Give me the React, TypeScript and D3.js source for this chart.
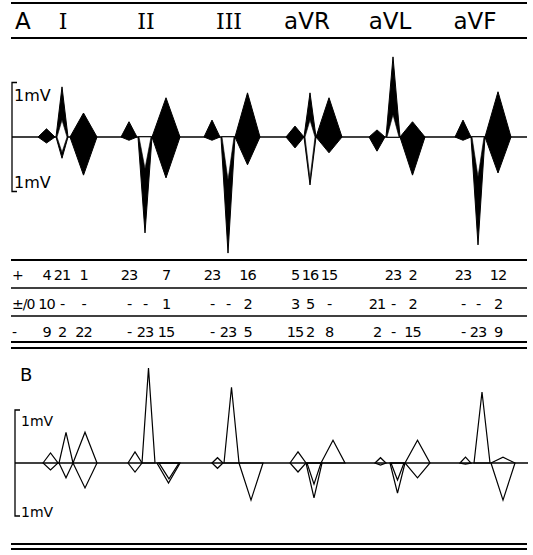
import React from "react";
import * as d3 from "d3";

// leads, header
const leads = ["I", "II", "III", "aVR", "aVL", "aVF"];
const roman = [true, true, true, false, false, false];

// each wave: [start, end, up mV, down mV] -- time in arbitrary units
const pWaveA = [[38, 55, 0.15, 0.11], [121, 137, 0.28, 0.06], [204, 220, 0.31, 0.06], [286, 304, 0.2, 0.2], [369, 385, 0.13, 0.26], [455, 471, 0.31, 0.06]];
const qrsA = [[56, 68, 0.92, 0.39], [138, 152, 0, 1.76], [221, 235, 0, 2.13], [304, 316, 0.81, 0.88], [386, 400, 1.47, 0], [471, 485, 0, 1.98]];
const qrsInnerA = [[57, 67, 0.31, 0.28], [139, 151, 0, 0.58], [222, 234, 0, 0.79], [305, 315, 0.31, 0.76], [387, 399, 0.41, 0], [472, 484, 0, 0.73]];
const tWaveA = [[70, 97, 0.44, 0.7], [152, 180, 0.72, 0.75], [235, 260, 0.81, 0.51], [316, 342, 0.72, 0.29], [400, 425, 0.28, 0.7], [485, 511, 0.83, 0.66]];

const pWaveB = [[43, 58, 0.19, 0.13], [128, 142, 0.21, 0.17], [212, 223, 0.1, 0.1], [290, 306, 0.21, 0.17], [375, 386, 0.1, 0.04], [460, 471, 0.11, 0.02]];
const qrsB = [[59, 73, 0.58, 0.28], [142, 155, 1.79, 0], [224, 239, 1.43, 0], [306, 322, 0, 0.66], [390, 405, 0, 0.57], [474, 490, 1.34, 0]];
const qrsInnerB = [null, null, null, [307, 321, 0, 0.4], [391, 404, 0, 0.32], null];
const tWaveB = [[73, 97, 0.58, 0.47], [157, 180, 0, 0.38], [239, 263, 0, 0.7], [321, 345, 0.43, 0], [405, 430, 0.43, 0.28], [491, 515, 0.11, 0.7]];
const tInnerB = [null, [159, 179, 0, 0.3], null, null, null, null];

// counts table (P, QRS, T per lead)
const rowLabels = ["+", "±/0", "-"];
const rowPlus = [["4", "21", "1"], ["23", "", "7"], ["23", "", "16"], ["5", "16", "15"], ["", "23", "2"], ["23", "", "12"]];
const rowZero = [["10", "-", "-"], ["-", "-", "1"], ["-", "-", "2"], ["3", "5", "-"], ["21", "-", "2"], ["-", "-", "2"]];
const rowMinus = [["9", "2", "22"], ["-", "23", "15"], ["-", "23", "5"], ["15", "2", "8"], ["2", "-", "15"], ["-", "23", "9"]];

const sans = "'DejaVu Sans', sans-serif";

export default function App() {
  const x = d3.scaleLinear().domain([0, 533]).range([0, 533]);
  const yA = d3.scaleLinear().domain([-1, 1]).range([137 + 54.5, 137 - 54.5]);
  const yB = d3.scaleLinear().domain([-1, 1]).range([463 + 53, 463 - 53]);

  const kite = (y: any, w: number[]) => {
    const [s, e, up, down] = w;
    const m = (s + e) / 2;
    const line = d3.line<number[]>().x(d => x(d[0])).y(d => y(d[1]));
    return line([[s, 0], [m, up], [e, 0], [m, -down]]) + "Z";
  };

  const rule = (yy: number, sw: number, key: string) => (
    <line key={key} x1={11} x2={527} y1={yy} y2={yy} stroke="#000" strokeWidth={sw} />
  );

  const bracket = (y: any, shift: number) => (
    <path d={`M${x(17) + shift},${y(1)}H${x(12) + shift}V${y(-1)}H${x(17) + shift}`} fill="none" stroke="#000" strokeWidth={1.3} />
  );

  const tableRows = [rowPlus, rowZero, rowMinus];
  const rowY = [280, 309, 337];
  const waveCols = [pWaveA, qrsA, tWaveA];

  return (
    <svg width={533} height={555} style={{ position: "absolute", left: 0, top: 0, background: "#fff" }}>
      {/* header */}
      {rule(3, 2, "r0")}
      {rule(38, 2, "r1")}
      <text x={15} y={29} fontFamily={sans} fontSize={23}>A</text>
      {leads.map((l, i) => (
        <text key={l} x={x((qrsA[i][0] + qrsA[i][1]) / 2) + (roman[i] ? 1 : -3)} y={29} textAnchor="middle"
          fontFamily={roman[i] ? "'DejaVu Serif', serif" : sans} fontSize={roman[i] ? 22 : 23}>{l}</text>
      ))}

      {/* panel A */}
      {bracket(yA, 0)}
      <text x={14} y={101} fontFamily={sans} fontSize={16}>1mV</text>
      <text x={14} y={188} fontFamily={sans} fontSize={16}>1mV</text>
      <line x1={x(12)} x2={x(527)} y1={yA(0)} y2={yA(0)} stroke="#000" strokeWidth={1.6} />
      {leads.map((l, i) => (
        <g key={"a" + l}>
          <path d={kite(yA, pWaveA[i])} fill="#000" stroke="#000" strokeWidth={1} />
          <path d={kite(yA, tWaveA[i])} fill="#000" stroke="#000" strokeWidth={1} />
          <path d={kite(yA, qrsA[i])} fill="#000" stroke="#000" strokeWidth={1} />
          <path d={kite(yA, qrsInnerA[i])} fill="#fff" stroke="#000" strokeWidth={0.6} />
        </g>
      ))}

      {/* table */}
      {rule(260, 2, "r2")}
      {rule(288, 1.6, "r3")}
      {rule(316, 1.6, "r4")}
      {rule(342, 2, "r5")}
      {rule(348, 2, "r6")}
      {rowLabels.map((r, k) => (
        <text key={"rl" + k} x={12} y={rowY[k]} fontFamily={sans} fontSize={14} letterSpacing={-1}>{r}</text>
      ))}
      {tableRows.map((row, k) =>
        row.map((cells, i) =>
          cells.map((c, j) => (
            <text key={`c${k}-${i}-${j}`} x={x((waveCols[j][i][0] + waveCols[j][i][1]) / 2)} y={rowY[k]}
              textAnchor="middle" fontFamily={sans} fontSize={14.5} letterSpacing={-1}>{c}</text>
          ))
        )
      )}

      {/* panel B */}
      <text x={20} y={381} fontFamily={sans} fontSize={18}>B</text>
      {bracket(yB, 3)}
      <text x={21} y={426} fontFamily={sans} fontSize={14}>1mV</text>
      <text x={21} y={517} fontFamily={sans} fontSize={14}>1mV</text>
      <line x1={x(15)} x2={x(528)} y1={yB(0)} y2={yB(0)} stroke="#000" strokeWidth={1.6} />
      {leads.map((l, i) => (
        <g key={"b" + l} fill="none" stroke="#000" strokeWidth={1.2} strokeLinejoin="miter">
          <path d={kite(yB, pWaveB[i])} />
          <path d={kite(yB, qrsB[i])} />
          <path d={kite(yB, tWaveB[i])} />
          {qrsInnerB[i] && <path d={kite(yB, qrsInnerB[i] as number[])} />}
          {tInnerB[i] && <path d={kite(yB, tInnerB[i] as number[])} />}
        </g>
      ))}
      {rule(544, 2, "r7")}
      {rule(549, 2, "r8")}
    </svg>
  );
}
